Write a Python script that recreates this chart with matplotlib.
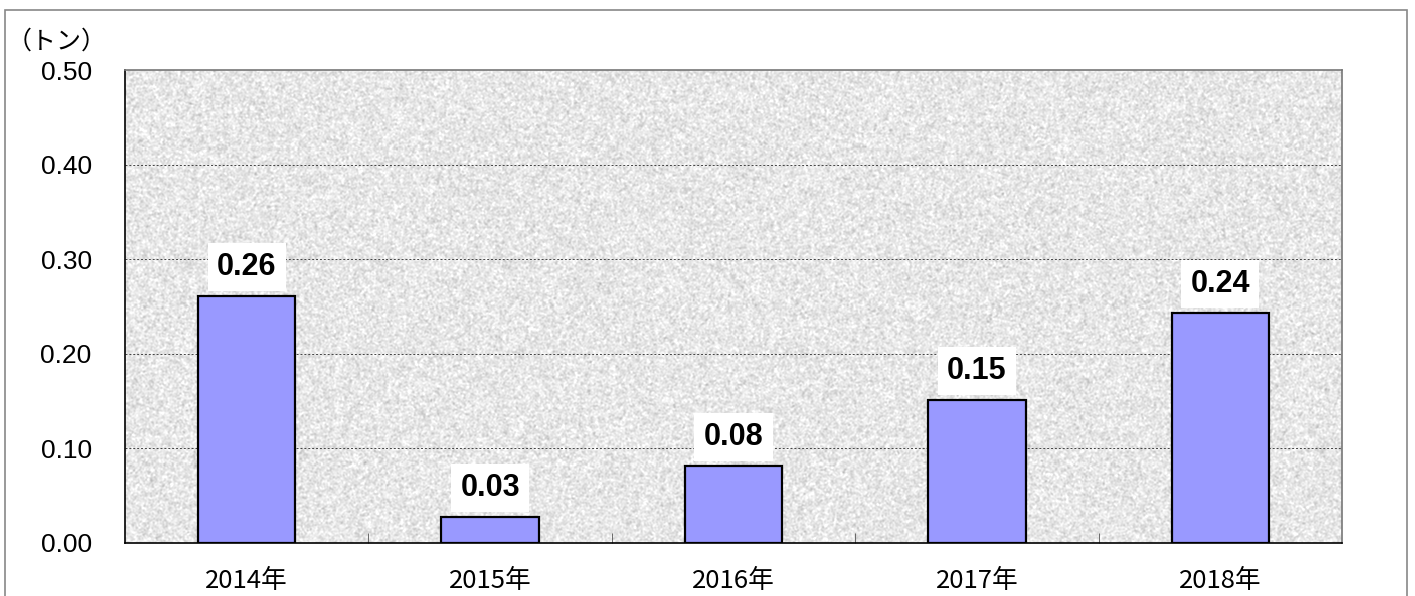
import numpy as np
import matplotlib
matplotlib.use('Agg')
import matplotlib.pyplot as plt
from matplotlib.patches import Rectangle

years = ['2014年', '2015年', '2016年', '2017年', '2018年']
values = [0.261, 0.027, 0.081, 0.151, 0.243]
labels = ['0.26', '0.03', '0.08', '0.15', '0.24']
yticks = [0.0, 0.1, 0.2, 0.3, 0.4, 0.5]

plt.rcParams['font.family'] = ['Liberation Sans', 'Noto Sans CJK JP']

fig = plt.figure(figsize=(14.15, 5.96), dpi=100)
ax = fig.add_axes([125 / 1415, 53 / 596, 1217 / 1415, 473 / 596])

# granite-like background texture (decoration only)
rs = np.random.RandomState(3)
tex = rs.normal(0.0, 1.0, (470, 1210))
k = np.array([1, 2, 1], float)
k /= k.sum()
tex = np.apply_along_axis(lambda r: np.convolve(r, k, mode='same'), 1, tex)
tex = np.apply_along_axis(lambda c: np.convolve(c, k, mode='same'), 0, tex)
tex = 0.905 + 0.042 * tex / tex.std()
ax.imshow(tex, cmap='gray', vmin=0, vmax=1, extent=(-0.5, 4.5, 0, 0.5),
          aspect='auto', interpolation='nearest', zorder=0)

x = np.arange(len(years))
ax.bar(x, values, width=0.4, color='#9999ff', edgecolor='black', linewidth=1.6, zorder=3)

for xi, v, lab in zip(x, values, labels):
    ax.annotate(lab, (xi, v), xytext=(0, 21), textcoords='offset points',
                ha='center', va='center', fontsize=22, fontweight='bold',
                bbox=dict(boxstyle='square,pad=0.3', fc='white', ec='none'), zorder=4)

ax.set_xlim(-0.5, 4.5)
ax.set_ylim(0, 0.5)
ax.set_yticks(yticks)
ax.set_yticklabels(['%.2f' % t for t in yticks], fontsize=19)
ax.set_xticks(x)
ax.set_xticklabels(years, fontsize=18.5, family=['Noto Sans CJK JP'])
ax.set_xticks([0.5, 1.5, 2.5, 3.5], minor=True)
ax.tick_params(axis='x', which='major', length=0, pad=18)
ax.tick_params(axis='x', which='minor', direction='in', length=7, color='#555555')
ax.tick_params(axis='y', length=0, pad=24)

for t in yticks[1:-1]:
    ax.axhline(t, color='#444444', linewidth=0.7, linestyle=(0, (2, 2)), zorder=1)

ax.spines['left'].set_color('black')
ax.spines['bottom'].set_color('black')
ax.spines['top'].set_color('#777777')
ax.spines['right'].set_color('#777777')
for s in ax.spines.values():
    s.set_linewidth(1.2)
    s.set_zorder(5)

fig.text(57 / 1415, 1 - 42 / 596, '（トン）', ha='center', va='center', fontsize=18,
         family=['Noto Sans CJK JP'])

fig.patches.append(Rectangle((5 / 1415, -0.05), 1402 / 1415, 1.05 - 10 / 596,
                             transform=fig.transFigure, fill=False,
                             edgecolor='#888888', linewidth=1.2))

fig.savefig('out.png', dpi=100)
